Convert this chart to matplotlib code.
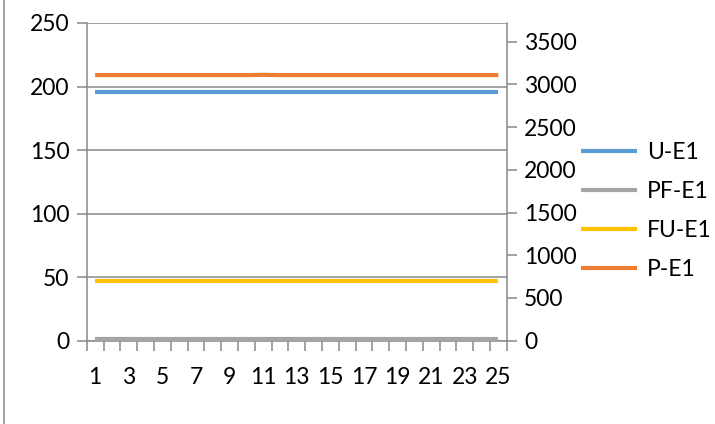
import matplotlib
matplotlib.use("Agg")
import matplotlib.pyplot as plt
from matplotlib.lines import Line2D
from matplotlib.ticker import FixedLocator
import numpy as np

plt.rcParams['font.family'] = ['Lato', 'DejaVu Sans']

# data (left axis units)
days = list(range(1, 26))
u_e1 = [196] * 25
pf_e1 = [1] * 25
fu_e1 = [47] * 25
p_e1 = [209, 209, 209, 209, 209, 209, 209, 209, 209, 209, 209.2, 209, 209,
        209, 209, 209, 209, 209, 209, 209, 209, 209, 209, 209, 209]
series_names = ['U-E1', 'PF-E1', 'FU-E1', 'P-E1']
colors = ['#5B9BD5', '#A5A5A5', '#FFC000', '#ED7D31']

left_ticks = [0, 50, 100, 150, 200, 250]
right_ticks = [0, 500, 1000, 1500, 2000, 2500, 3000, 3500]
x_labels = [str(d) for d in days[::2]]

axis_gray = '#898989'
fs = 16.5

fig = plt.figure(figsize=(7.15, 4.24), dpi=100)
ax = fig.add_axes([0.1213, 0.1965, 0.5874, 0.7493])

handles = []
for vals, name, c in zip([u_e1, pf_e1, fu_e1, p_e1], series_names, colors):
    h, = ax.plot(days, vals, color=c, lw=3, label=name, solid_capstyle='butt', zorder=3)
    handles.append(h)

ax.set_xlim(0.5, 25.5)
ax.set_ylim(0, 250)
ax.set_yticks(left_ticks)
ax.yaxis.grid(True, color=axis_gray, lw=1.1)
ax.set_axisbelow(True)

ax.xaxis.set_major_locator(FixedLocator(days[::2]))
ax.set_xticklabels(x_labels)
ax.xaxis.set_minor_locator(FixedLocator(np.arange(0.5, 26, 1)))
ax.tick_params(axis='x', which='major', length=0, pad=19, labelsize=fs)
ax.tick_params(axis='x', which='minor', length=7.5, width=1.1, color=axis_gray, direction='out')
ax.tick_params(axis='y', length=7.5, width=1.1, color=axis_gray, pad=5, labelsize=fs)

for s in ['left', 'bottom']:
    ax.spines[s].set_color(axis_gray)
    ax.spines[s].set_linewidth(1.1)
ax.spines['top'].set_visible(False)
ax.spines['right'].set_visible(False)

ax2 = ax.twinx()
ax2.set_ylim(0, 3720)
ax2.set_yticks(right_ticks)
ax2.tick_params(axis='y', length=7.5, width=1.1, color=axis_gray, pad=5, labelsize=fs)
for s in ['left', 'top', 'bottom']:
    ax2.spines[s].set_visible(False)
ax2.spines['right'].set_color(axis_gray)
ax2.spines['right'].set_linewidth(1.1)

fig.legend(handles=handles, loc='center left', bbox_to_anchor=(0.812, 0.502),
           frameon=False, fontsize=fs, handlelength=2.45, handletextpad=0.45,
           labelspacing=0.78, borderpad=0, borderaxespad=0)

# chart border on the left edge
fig.add_artist(Line2D([0.006, 0.006], [0, 1], transform=fig.transFigure,
                      color=axis_gray, lw=1.1))

fig.savefig('out.png', dpi=100)
